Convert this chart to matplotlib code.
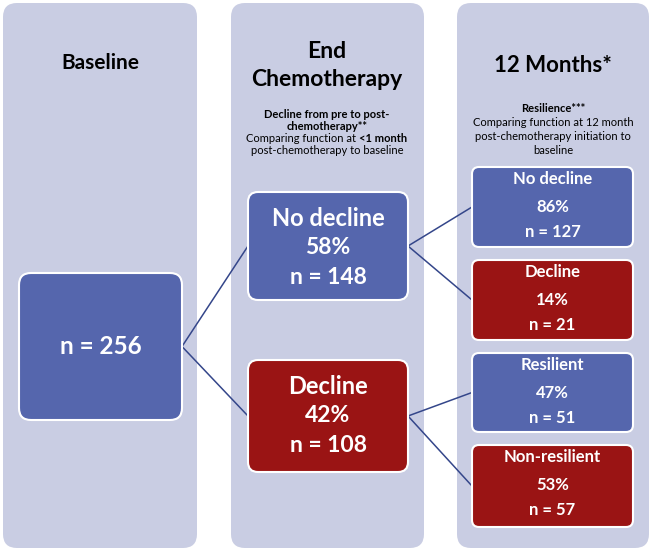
import matplotlib.pyplot as plt
from matplotlib.patches import FancyBboxPatch

plt.rcParams['font.family'] = ['Lato', 'DejaVu Sans']

BLUE = '#5566ad'
RED = '#9a1414'
PANEL = '#c9cde3'
LINE = '#34468a'

# data
total_n = 256
end_labels = ['No decline', 'Decline']
end_pct = [58, 42]
end_n = [148, 108]
m12_labels = ['No decline', 'Decline', 'Resilient', 'Non-resilient']
m12_pct = [86, 14, 47, 53]
m12_n = [127, 21, 51, 57]
m12_colors = [BLUE, RED, BLUE, RED]

fig = plt.figure(figsize=(6.52, 5.51), dpi=100)
ax = fig.add_axes([0, 0, 1, 1])
ax.set_xlim(0, 652)
ax.set_ylim(551, 0)
ax.axis('off')


def rbox(x0, y0, x1, y1, color, r, edge='none', lw=0):
    p = FancyBboxPatch((x0 + r, y0 + r), x1 - x0 - 2 * r, y1 - y0 - 2 * r,
                       boxstyle='round,pad=%f' % r, fc=color, ec=edge, lw=lw)
    ax.add_patch(p)


# background columns
for x0, x1 in [(3, 197), (231, 424), (457, 649)]:
    rbox(x0, 3, x1, 548, PANEL, 14)

SMALL = 8

# headers
ax.text(100, 63, 'Baseline', ha='center', va='center', fontsize=15, fontweight='bold')
ax.text(327, 52, 'End', ha='center', va='center', fontsize=16.5, fontweight='bold')
ax.text(327, 80, 'Chemotherapy', ha='center', va='center', fontsize=16.5, fontweight='bold')
ax.text(327, 114, 'Decline from pre to post-', ha='center', va='center', fontsize=SMALL, fontweight='bold')
ax.text(327, 126, 'chemotherapy**', ha='center', va='center', fontsize=SMALL, fontweight='bold')
ax.text(359, 138, 'Comparing function at ', ha='right', va='center', fontsize=SMALL)
ax.text(359, 138, '<1 month', ha='left', va='center', fontsize=SMALL, fontweight='bold')
ax.text(327, 151, 'post-chemotherapy to baseline', ha='center', va='center', fontsize=SMALL)

ax.text(553, 66, '12 Months*', ha='center', va='center', fontsize=16, fontweight='bold')
ax.text(553, 108, 'Resilience***', ha='center', va='center', fontsize=SMALL, fontweight='bold')
ax.text(553, 123, 'Comparing function at 12 month', ha='center', va='center', fontsize=SMALL)
ax.text(553, 137, 'post-chemotherapy initiation to', ha='center', va='center', fontsize=SMALL)
ax.text(553, 150, 'baseline', ha='center', va='center', fontsize=SMALL)

# connectors
base_box = (19, 273, 182, 420)
end_boxes = [(248, 192, 408, 300), (248, 360, 408, 472)]
m12_boxes = [(472, 167, 633, 247), (472, 260, 633, 340),
             (472, 353, 633, 432), (472, 445, 633, 527)]

by = (base_box[1] + base_box[3]) / 2
for b in end_boxes:
    ax.plot([base_box[2], b[0]], [by, (b[1] + b[3]) / 2], color=LINE, lw=1.1, zorder=1)
for i, b in enumerate(end_boxes):
    ey = (b[1] + b[3]) / 2
    for c in m12_boxes[2 * i:2 * i + 2]:
        ax.plot([b[2], c[0]], [ey, (c[1] + c[3]) / 2], color=LINE, lw=1.1, zorder=1)

# boxes
rbox(*base_box, BLUE, 12, edge='white', lw=1.5)
ax.text((base_box[0] + base_box[2]) / 2, by, 'n = %d' % total_n, ha='center', va='center',
        fontsize=17.5, fontweight='bold', color='white')

for b, lab, p, n, col in zip(end_boxes, end_labels, end_pct, end_n, [BLUE, RED]):
    rbox(*b, col, 10, edge='white', lw=1.5)
    cx = (b[0] + b[2]) / 2
    ax.text(cx, b[1] + 26, lab, ha='center', va='center', fontsize=17, fontweight='bold', color='white')
    ax.text(cx, b[1] + 56, '%d%%' % p, ha='center', va='center', fontsize=16.5, fontweight='bold', color='white')
    ax.text(cx, b[1] + 86, 'n = %d' % n, ha='center', va='center', fontsize=16.5, fontweight='bold', color='white')

for b, lab, p, n, col in zip(m12_boxes, m12_labels, m12_pct, m12_n, m12_colors):
    rbox(*b, col, 7, edge='white', lw=1.5)
    cx = (b[0] + b[2]) / 2
    ax.text(cx, b[1] + 12, lab, ha='center', va='center', fontsize=12, fontweight='bold', color='white')
    ax.text(cx, b[1] + 40, '%d%%' % p, ha='center', va='center', fontsize=12, fontweight='bold', color='white')
    ax.text(cx, b[1] + 65, 'n = %d' % n, ha='center', va='center', fontsize=12, fontweight='bold', color='white')

fig.savefig('out.png', dpi=100)
